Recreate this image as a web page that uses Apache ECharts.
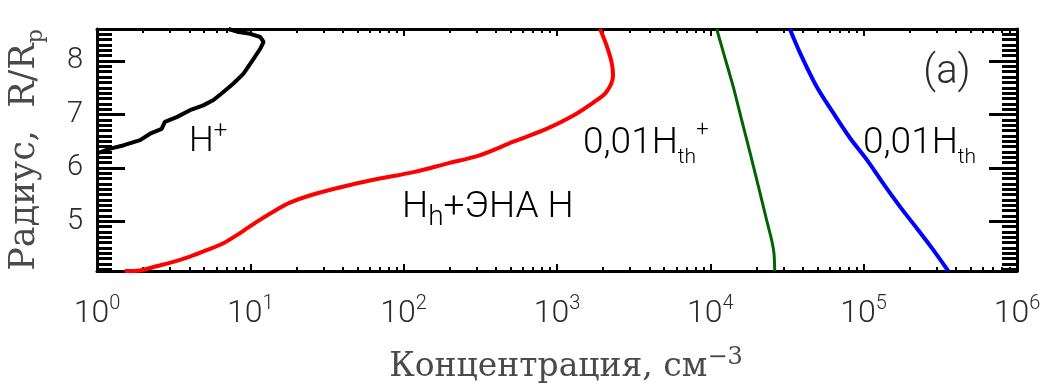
<!DOCTYPE html>
<html>
<head>
<meta charset="utf-8">
<script src="https://cdn.jsdelivr.net/npm/echarts@6/dist/echarts.min.js"></script>
<style>
  html, body { margin: 0; padding: 0; background: #ffffff; }
  #chart { width: 1046px; height: 383px; }
</style>
</head>
<body>
<div id="chart"></div>
<script>
// H+ ions (black)
const hPlusConc   = [1.0, 1.22, 1.48, 1.91, 2.22, 2.64, 2.77, 3.31, 4.04, 4.93, 5.75, 6.67, 7.76, 9.0, 10.5, 11.6, 12.2, 11.6, 10.0, 8.2, 7.2];
const hPlusRadius = [6.27, 6.36, 6.42, 6.52, 6.64, 6.73, 6.86, 6.95, 7.08, 7.17, 7.27, 7.42, 7.58, 7.76, 8.04, 8.23, 8.36, 8.45, 8.51, 8.55, 8.6];

// hot H + ENA H (red)
const hotConc   = [1.52, 1.91, 2.44, 3.14, 4.04, 5.19, 6.67, 8.56, 11.0, 14.1, 18.1, 27.0, 44.7, 70, 116, 191, 316, 519, 854, 1280, 1740, 2100, 2320, 2270, 2100, 1910];
const hotRadius = [4.07, 4.08, 4.16, 4.24, 4.34, 4.46, 4.59, 4.78, 4.99, 5.18, 5.35, 5.52, 5.68, 5.80, 5.92, 6.08, 6.24, 6.49, 6.73, 6.98, 7.23, 7.42, 7.73, 7.98, 8.30, 8.6];

// 0.01 x thermal H+ (green)
const ionConc   = [11000, 12200, 14100, 16000, 18200, 20600, 23300, 25100, 26000, 26300];
const ionRadius = [8.6, 8.15, 7.52, 6.90, 6.27, 5.65, 5.02, 4.65, 4.40, 4.07];

// 0.01 x thermal H (blue)
const thermConc   = [33000, 38500, 49400, 63700, 81900, 105000, 134000, 173000, 222000, 285000, 356000];
const thermRadius = [8.6, 8.15, 7.52, 7.02, 6.55, 6.15, 5.71, 5.27, 4.87, 4.46, 4.07];

// axis ticks
const decadeExponents = ['0', '1', '2', '3', '4', '5', '6'];
const radiusTicks = [5, 6, 7, 8];
const radiusMin = 4.07, radiusMax = 8.6;
const concMin = 1, concMax = 1e6;

const pairs = (xs, ys) => xs.map((x, i) => [x, ys[i]]);

// minor log ticks (2..9 within each decade), expressed as log10 positions
const minorLog = [];
for (let k = 0; k < 6; k++) for (let m = 2; m <= 9; m++) minorLog.push(k + Math.log10(m));
// minor radius ticks every 0.1
const minorRadius = [];
for (let i = 41; i <= 86; i++) if (i % 10 !== 0) minorRadius.push(i / 10);

const SANS = 'Roboto';
const SANS_W = 300;
const SERIF = 'DejaVu Serif';
const INK = '#2b2b2b';
const TITLE_INK = '#4a4a4a';

const chart = echarts.init(document.getElementById('chart'), null, { renderer: 'canvas' });

const gridRect = { left: 97, right: 29, top: 29, bottom: 112, outerBoundsMode: 'none' };

const majorX = (pos, withLabels) => ({
  type: 'log', logBase: 10, gridIndex: 0, position: pos, min: concMin, max: concMax,
  axisLine: { show: true, onZero: false, lineStyle: { color: '#000', width: 3 } },
  axisTick: { show: true, inside: true, length: 7, lineStyle: { color: '#000', width: 2 } },
  splitLine: { show: false },
  axisLabel: withLabels ? {
    show: true, margin: 23,
    formatter: v => '{b|10}{e|' + decadeExponents[Math.round(Math.log10(v))] + '}',
    rich: {
      b: { fontFamily: SANS, fontWeight: SANS_W, fontSize: 32, lineHeight: 40, color: INK },
      e: { fontFamily: SANS, fontWeight: SANS_W, fontSize: 20, lineHeight: 22, color: INK, verticalAlign: 'top' }
    }
  } : { show: false }
});

const minorX = pos => ({
  type: 'value', gridIndex: 1, position: pos, min: 0, max: 6,
  axisLine: { show: false, onZero: false },
  axisTick: { show: true, inside: true, length: 4, customValues: minorLog, lineStyle: { color: '#000', width: 2 } },
  axisLabel: { show: false }, splitLine: { show: false }
});

const majorY = (pos, withLabels) => ({
  type: 'value', gridIndex: 0, position: pos, min: radiusMin, max: radiusMax,
  axisLine: { show: true, onZero: false, lineStyle: { color: '#000', width: 3 } },
  axisTick: { show: true, inside: true, length: 28, customValues: radiusTicks, lineStyle: { color: '#000', width: 3 } },
  splitLine: { show: false },
  axisLabel: withLabels ? {
    show: true, margin: 14, customValues: radiusTicks,
    fontFamily: SANS, fontWeight: SANS_W, fontSize: 29, color: INK
  } : { show: false }
});

const minorY = pos => ({
  type: 'value', gridIndex: 1, position: pos, min: radiusMin, max: radiusMax,
  axisLine: { show: false, onZero: false },
  axisTick: { show: true, inside: true, length: 15, customValues: minorRadius, lineStyle: { color: '#000', width: 3 } },
  axisLabel: { show: false }, splitLine: { show: false }
});

const xBottom = majorX('bottom', true);
xBottom.name = '{t|Концентрация, см}{s|−3}';
xBottom.nameLocation = 'middle';
xBottom.nameGap = 75;
xBottom.nameTextStyle = {
  padding: [0, 0, 0, 18],
  rich: {
    t: { fontFamily: SERIF, fontSize: 33, lineHeight: 42, color: TITLE_INK },
    s: { fontFamily: SERIF, fontSize: 24, lineHeight: 24, color: TITLE_INK, verticalAlign: 'top' }
  }
};

const yLeft = majorY('left', true);
yLeft.name = '{t|Радиус,  R/R}{s|p}';
yLeft.nameLocation = 'middle';
yLeft.nameGap = 50;
yLeft.nameTextStyle = {
  rich: {
    t: { fontFamily: SERIF, fontSize: 35, lineHeight: 44, color: TITLE_INK },
    s: { fontFamily: SERIF, fontSize: 22, lineHeight: 22, color: TITLE_INK, verticalAlign: 'bottom' }
  }
};

const line = (name, xs, ys, color, width, smooth) => ({
  name, type: 'line', xAxisIndex: 0, yAxisIndex: 0,
  data: pairs(xs, ys), showSymbol: false, symbol: 'none', smooth,
  lineStyle: { color, width }, clip: true, z: 5
});

const main = (c, fs, lh) => ({ fontFamily: SANS, fontWeight: SANS_W, fontSize: fs, lineHeight: lh, color: c });
const shifted = (c, fs, lh, va) => ({ fontFamily: SANS, fontWeight: SANS_W, fontSize: fs, lineHeight: lh, color: c, verticalAlign: va });

const option = {
  backgroundColor: '#ffffff',
  animation: false,
  grid: [Object.assign({}, gridRect), Object.assign({}, gridRect)],
  xAxis: [xBottom, majorX('top', false), minorX('bottom'), minorX('top')],
  yAxis: [yLeft, majorY('right', false), minorY('left'), minorY('right')],
  series: [
    line('H+', hPlusConc, hPlusRadius, '#000000', 4, false),
    line('Hh+ENA H', hotConc, hotRadius, '#ff0000', 4, 0.3),
    line('0.01 Hth+', ionConc, ionRadius, '#006400', 3, 0.3),
    line('0.01 Hth', thermConc, thermRadius, '#0000ff', 4, 0.3)
  ],
  graphic: [
    { type: 'text', x: 189, y: 120, z: 20, style: {
      text: '{m|H}{p|+}', align: 'left', verticalAlign: 'top',
      rich: { m: main(INK, 35, 45), p: shifted(INK, 24, 24, 'top') } } },
    { type: 'text', x: 402, y: 183, z: 20, style: {
      text: '{m|H}{s|h}{m|+ЭНА H}', align: 'left', verticalAlign: 'top',
      rich: { m: main('#ff1a1a', 37, 49), s: shifted('#ff1a1a', 28, 21, 'bottom') } } },
    { type: 'text', x: 583, y: 119, z: 20, style: {
      text: '{m|0,01H}{s|th}{p|+}', align: 'left', verticalAlign: 'top',
      rich: { m: main('#1f7a1f', 37, 49), s: shifted('#1f7a1f', 21, 17, 'bottom'), p: shifted('#1f7a1f', 22, 26, 'top') } } },
    { type: 'text', x: 863, y: 119, z: 20, style: {
      text: '{m|0,01H}{s|th}', align: 'left', verticalAlign: 'top',
      rich: { m: main('#2a2aff', 37, 49), s: shifted('#2a2aff', 21, 17, 'bottom') } } },
    { type: 'text', x: 947, y: 73, z: 20, style: {
      text: '(a)', align: 'center', verticalAlign: 'middle',
      fontFamily: SANS, fontWeight: SANS_W, fontSize: 40, fill: INK } }
  ]
};

chart.setOption(option);
</script>
</body>
</html>
